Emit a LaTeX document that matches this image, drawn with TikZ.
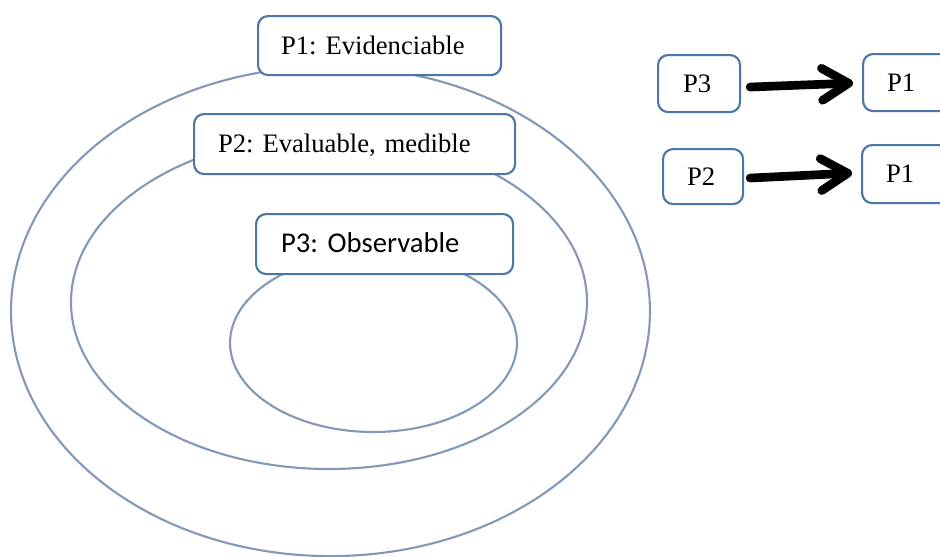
\documentclass[tikz,border=0pt]{standalone}
\usepackage{fontspec}
\setmainfont{Liberation Serif}
\newfontfamily\calibrifont{Carlito}
\usetikzlibrary{arrows.meta}
\definecolor{ellcol}{HTML}{8499B7}
\definecolor{boxblue}{HTML}{4A77A8}
\frenchspacing
\tikzset{
  ring/.style={draw=ellcol, line width=1.6pt},
  pbox/.style={draw=boxblue, line width=1.6pt, rounded corners=7.5pt, fill=white,
    anchor=north west, inner ysep=0pt, align=left,
    font=\fontsize{20pt}{24pt}\selectfont, text height=13.2pt, text depth=0pt},
  bigarrow/.style={draw=black, line width=6.5pt, line cap=round, line join=round,
    -{Straight Barb[length=20pt,width=24pt,round]}},
}
\begin{document}
\begin{tikzpicture}[x=0.75pt,y=-0.75pt]
\useasboundingbox (0,0) rectangle (940,557);
% rings
\draw[ring] (330.5,311.3) ellipse [x radius=239.6pt, y radius=183.6pt];
\draw[ring] (329,302) ellipse [x radius=193.5pt, y radius=125.25pt];
\draw[ring] (373.5,343) ellipse [x radius=107.6pt, y radius=66.75pt];
% label boxes
\node[pbox, minimum width=182.25pt, minimum height=44.25pt, inner xsep=17.25pt, text width=147.75pt] (b1) at (257,15) {P1: Evidenciable};
\node[pbox, minimum width=240.75pt, minimum height=45pt, inner xsep=18pt, text width=204.75pt] (b2) at (193,113) {P2: Evaluable, medible};
\node[pbox, minimum width=192.75pt, minimum height=45pt, inner xsep=18.75pt, text width=155.25pt, font=\calibrifont\fontsize{21.5pt}{26pt}\selectfont, text height=13.2pt] (b3) at (255,213) {P3: Observable};
% small boxes
\node[pbox, minimum width=61.5pt, minimum height=42.75pt, inner xsep=18.75pt, text width=24pt] (s3) at (657,54) {P3};
\node[pbox, minimum width=120pt, minimum height=42.75pt, inner xsep=18pt, text width=84pt] (t1) at (862,53) {P1};
\node[pbox, minimum width=60pt, minimum height=41.25pt, inner xsep=18pt, text width=24pt] (s2) at (662,148) {P2};
\node[pbox, minimum width=120pt, minimum height=43.5pt, inner xsep=18pt, text width=84pt] (t2) at (861,144) {P1};
% arrows
\draw[bigarrow] ([shift={(6.75pt,-2.6pt)}]s3.east) -- ([shift={(-6.75pt,-0.4pt)}]t1.west);
\draw[bigarrow] ([shift={(4.5pt,-1.1pt)}]s2.east) -- ([shift={(-6.75pt,0.75pt)}]t2.west);
\end{tikzpicture}
\end{document}
